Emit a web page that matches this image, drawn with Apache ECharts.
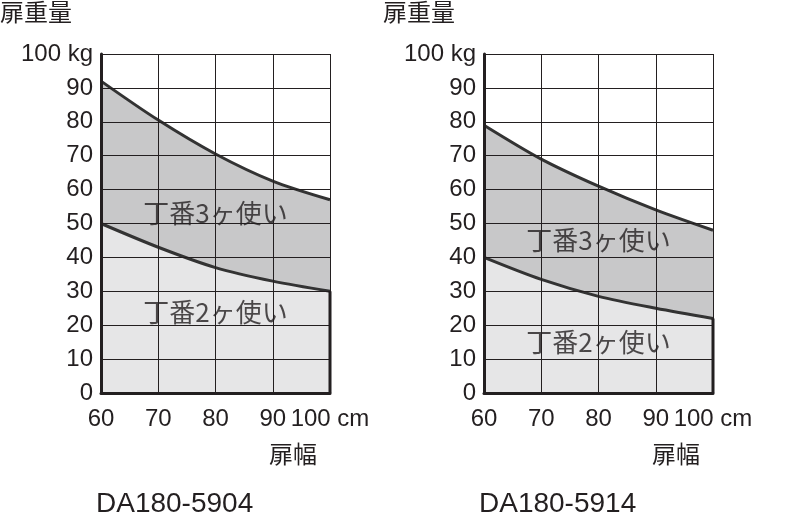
<!DOCTYPE html><html><head><meta charset="utf-8">
<script src="https://cdn.jsdelivr.net/npm/echarts@6/dist/echarts.min.js"></script>
<style>html,body{margin:0;background:#fff}#c{width:791px;height:524px}</style></head><body><div id="c"></div>
<script>
const widths=[60,70,80,90,100];
const upperA=[92,80.5,70.5,62.5,57];
const lowerA=[50,43,37,33,30];
const upperB=[79,69,61,54,48];
const lowerB=[40,33.5,28.5,25,22];
const titles=['DA180-5904','DA180-5914'];
const labelsA=[[80,53,'丁番3ヶ使い'],[80,24,'丁番2ヶ使い']];
const labelsB=[[80,45,'丁番3ヶ使い'],[80,15,'丁番2ヶ使い']];
const F='Arial,"Liberation Sans","Noto Sans CJK JP",sans-serif';
const FJ='"Noto Sans CJK JP",sans-serif';
const chart=echarts.init(document.getElementById('c'));
const lefts=[101,484],W=229;
const grids=lefts.map(l=>({left:l,width:W,top:54,height:339}));
const xAxes=[0,1].map(i=>({type:'value',gridIndex:i,min:60,max:100,interval:10,
 axisLine:{show:true,lineStyle:{color:'#231f20',width:3}},axisTick:{show:false},
 axisLabel:{color:'#231f20',fontSize:24,fontFamily:F,margin:14,formatter:v=>v===100?'100 cm':v},
 splitLine:{show:true,lineStyle:{color:'#231f20',width:1}},z:5}));
const yAxes=[0,1].map(i=>({type:'value',gridIndex:i,min:0,max:100,interval:10,
 axisLine:{show:true,lineStyle:{color:'#231f20',width:3}},axisTick:{show:false},
 axisLabel:{color:'#231f20',fontSize:24,fontFamily:F,margin:8,formatter:v=>v===100?'100 kg':v},
 splitLine:{show:true,lineStyle:{color:'#231f20',width:1}},z:5}));
const series=[];
[[upperA,lowerA,labelsA],[upperB,lowerB,labelsB]].forEach(([up,lo,lab],i)=>{
 series.push({type:'line',xAxisIndex:i,yAxisIndex:i,smooth:0.3,data:widths.map((w,k)=>[w,up[k]]),symbol:'none',
   lineStyle:{width:3,color:'#333'},areaStyle:{color:'#c8c8c9',opacity:1},z:2});
 series.push({type:'line',xAxisIndex:i,yAxisIndex:i,smooth:0.3,data:widths.map((w,k)=>[w,lo[k]]),symbol:'none',
   lineStyle:{width:3,color:'#333'},areaStyle:{color:'#e6e6e7',opacity:1},z:3});
 series.push({type:'line',xAxisIndex:i,yAxisIndex:i,data:[[100,0],[100,lo[4]]],symbol:'none',
   lineStyle:{width:3,color:'#231f20'},z:6});
 series.push({type:'scatter',xAxisIndex:i,yAxisIndex:i,symbolSize:0,z:7,
   data:lab.map(l=>({value:[l[0],l[1]],name:l[2]})),
   label:{show:true,position:'inside',formatter:'{b}',fontSize:26,color:'#231f20',fontFamily:FJ}});
});
const graphic=[];
lefts.forEach((l,i)=>{
 graphic.push({type:'text',left:l-101,top:0,style:{text:'扉重量',fontSize:24,fill:'#231f20',fontFamily:FJ}});
 graphic.push({type:'text',left:l+168,top:442,style:{text:'扉幅',fontSize:24,fill:'#231f20',fontFamily:FJ}});
 graphic.push({type:'text',left:l-5,top:490,style:{text:titles[i],fontSize:28,fill:'#231f20',fontFamily:F}});
});
chart.setOption({animation:false,grid:grids,xAxis:xAxes,yAxis:yAxes,series,graphic});
</script></body></html>
